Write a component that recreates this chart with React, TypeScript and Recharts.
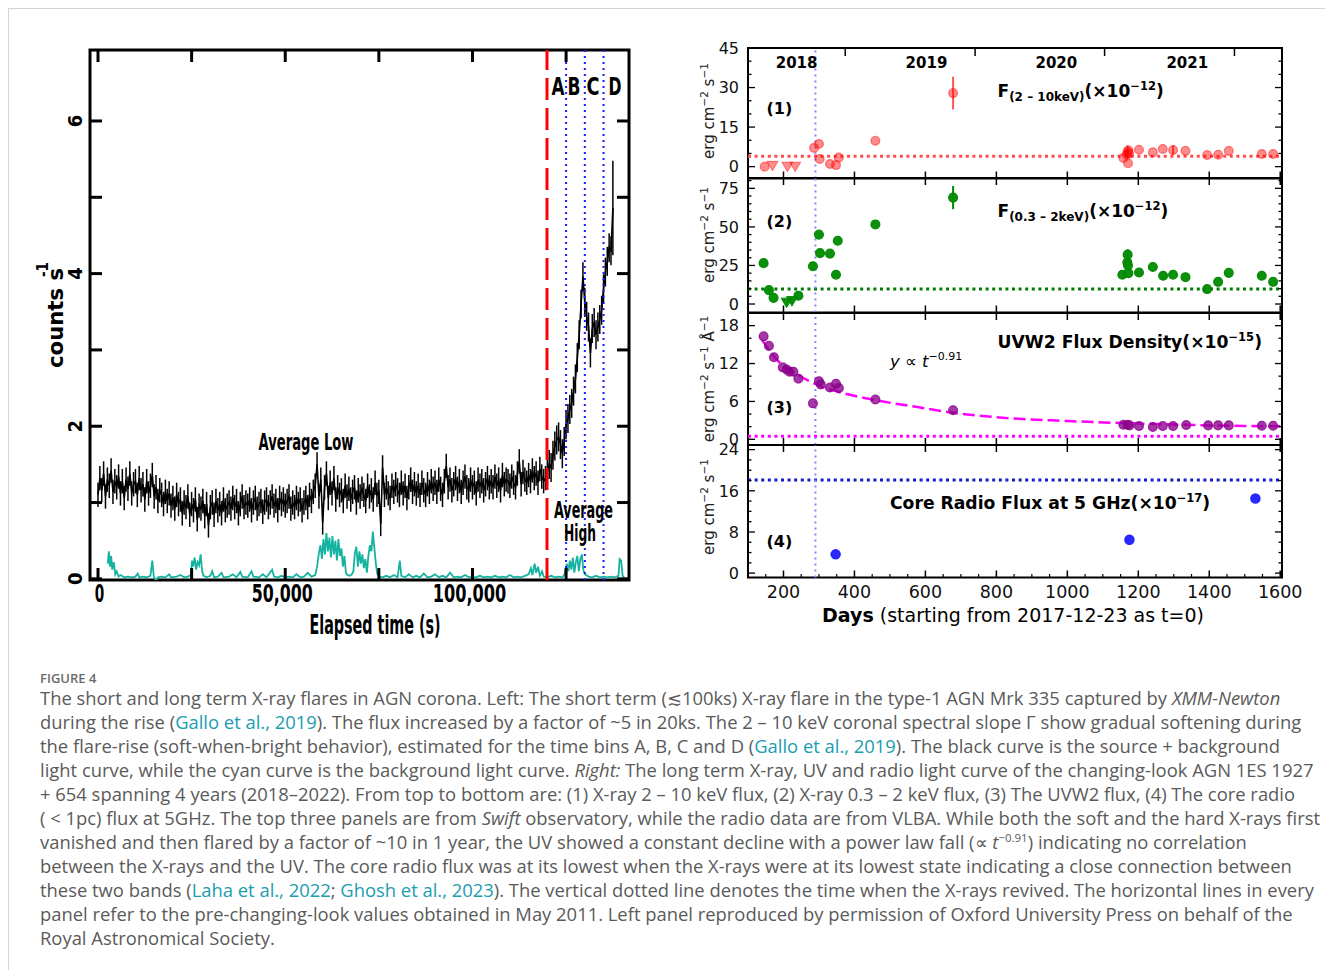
import React from "react";
import {
  ComposedChart,
  Line,
  Bar,
  Scatter,
  XAxis,
  YAxis,
  ReferenceLine,
  ReferenceArea,
  ErrorBar,
} from "recharts";

// ---------- left: Mrk 335 XMM-Newton light curve (500 s bins from t=0) ----------
const LC_BIN = 500;
const lcRate = [
  1.1, 1.32, 1.16, 1.38, 1.08, 1.3, 1.22, 1.42, 1.14, 1.28,
  1.2, 1.34, 1.12, 1.28, 1.06, 1.3, 1.18, 1.38, 1.12, 1.24,
  1.28, 1.1, 1.32, 1.16, 1.24, 1.04, 1.28, 1.12, 1.22, 1.36,
  1.08, 1.2, 1.02, 1.16, 1.1, 0.98, 1.14, 1.02, 1.12, 0.96,
  1.06, 0.92, 1.1, 0.98, 1.04, 0.86, 1.0, 0.94, 1.08, 0.84,
  0.98, 0.9, 1.04, 0.78, 0.96, 0.92, 1.02, 0.82, 0.98, 0.7,
  0.94, 1.0, 0.84, 1.02, 0.9, 0.98, 0.86, 1.04, 0.9, 0.96,
  1.0, 0.92, 1.06, 0.94, 1.02, 0.86, 0.98, 1.08, 0.94, 1.0,
  0.96, 1.04, 0.9, 1.0, 1.06, 0.92, 0.98, 1.02, 0.88, 1.0,
  1.04, 0.94, 1.0, 1.08, 0.96, 1.02, 0.9, 1.06, 0.98, 1.04,
  0.96, 1.02, 1.08, 0.92, 1.0, 0.94, 1.06, 0.98, 1.04, 0.9,
  1.0, 1.06, 0.94, 1.1, 1.02, 1.14, 1.22, 1.5, 1.08, 1.3,
  0.74, 1.2, 1.38, 1.06, 1.26, 1.12, 1.32, 1.04, 1.2, 1.1,
  1.16, 1.02, 1.22, 1.08, 1.18, 1.04, 1.14, 1.2, 1.0, 1.16,
  1.08, 1.18, 1.1, 1.02, 1.22, 1.08, 1.16, 1.04, 1.26, 1.1,
  1.14, 0.72, 1.46, 1.1, 1.2, 1.12, 1.06, 1.22, 1.14, 1.24,
  1.16, 1.1, 1.26, 1.12, 1.22, 1.06, 1.2, 1.3, 1.14, 1.24,
  1.12, 1.22, 1.1, 1.26, 1.16, 1.1, 1.24, 1.14, 1.28, 1.18,
  1.26, 1.14, 1.3, 1.18, 1.1, 1.28, 1.48, 1.2, 1.3, 1.16,
  1.24, 1.32, 1.18, 1.28, 1.14, 1.26, 1.34, 1.2, 1.16, 1.3,
  1.2, 1.26, 1.12, 1.3, 1.22, 1.28, 1.16, 1.24, 1.32, 1.2,
  1.28, 1.2, 1.34, 1.22, 1.3, 1.16, 1.36, 1.24, 1.3, 1.28,
  1.22, 1.34, 1.26, 1.2, 1.38, 1.54, 1.24, 1.4, 1.3, 1.26,
  1.36, 1.28, 1.42, 1.32, 1.38, 1.26, 1.44, 1.34, 1.28, 1.32,
  1.4, 1.5, 1.46, 1.62, 1.74, 1.82, 1.86, 1.76, 1.64, 1.8,
  2.02, 2.1, 2.22, 2.3, 2.46, 2.62, 2.9, 3.2, 3.6, 3.96,
  3.62, 3.44, 3.3, 2.96, 3.28, 3.36, 3.2, 3.3, 3.4, 3.52,
  3.8, 4.02, 4.16, 4.34, 4.3, 4.86,
];
const lcErr = { quiet: 0.16, rise: 0.19, last: 0.62 };
const lcRiseStart = 120000;

// background light curve [time s, counts/s]
const lcBackground = [
  [2600, 0.2], [2900, 0.36], [3200, 0.16], [3500, 0.3], [3800, 0.12], [4200, 0.22], [4600, 0.06],
  [5000, 0.1], [5500, 0.03], [6000, 0.05], [7000, 0.02], [8000, 0.03], [9000, 0.02], [10000, 0.03],
  [10600, 0.07], [11000, 0.02], [12000, 0.03], [13000, 0.02], [14000, 0.04], [14500, 0.24],
  [14900, 0.03], [15500, -0.03], [16000, 0.02], [17000, 0.03], [18000, 0.02], [19000, 0.06],
  [19500, 0.02], [21000, 0.03], [22000, 0.05], [23000, 0.02], [24000, 0.03], [24800, 0.05],
  [25100, 0.24], [25400, 0.16], [25800, 0.28], [26200, 0.12], [26600, 0.22], [27000, 0.18],
  [27400, 0.32], [27800, 0.1], [28200, 0.04], [29000, 0.02], [30000, 0.04], [30500, 0.1],
  [31000, 0.02], [32000, 0.03], [33000, 0.08], [33500, 0.02], [35000, 0.03], [36000, 0.06],
  [37000, 0.02], [38000, 0.09], [38500, 0.03], [40000, 0.02], [41000, 0.1], [41500, 0.03],
  [43000, 0.02], [44000, 0.06], [45000, 0.02], [46500, 0.12], [47000, 0.03], [48000, 0.02],
  [49000, 0.04], [50000, 0.02], [51000, 0.03], [52000, 0.02], [53000, 0.06], [54000, 0.02],
  [55000, 0.03], [56000, 0.08], [57000, 0.03], [58000, 0.05], [58500, 0.16], [59000, 0.34],
  [59400, 0.44], [59800, 0.26], [60200, 0.52], [60600, 0.32], [61000, 0.6], [61400, 0.36],
  [61800, 0.54], [62200, 0.28], [62600, 0.56], [63000, 0.32], [63400, 0.5], [63800, 0.24],
  [64200, 0.52], [64600, 0.3], [65000, 0.4], [65400, 0.16], [65800, 0.3], [66200, 0.08],
  [66600, 0.05], [67200, 0.04], [67800, 0.06], [68200, 0.1], [68600, 0.34], [69000, 0.42],
  [69400, 0.16], [69800, 0.36], [70200, 0.2], [70600, 0.32], [71000, 0.14], [71400, 0.26],
  [71800, 0.08], [72200, 0.3], [72600, 0.44], [73000, 0.36], [73400, 0.62], [73800, 0.4],
  [74200, 0.2], [74600, 0.06], [75200, 0.03], [76000, 0.02], [77000, 0.04], [78000, 0.02],
  [79000, 0.05], [80000, 0.02], [80600, 0.24], [81000, 0.04], [82000, 0.02], [83000, 0.06],
  [84000, 0.02], [85000, 0.04], [86000, 0.02], [87000, 0.07], [88000, 0.02], [89000, 0.03],
  [90000, 0.06], [91000, 0.02], [92000, 0.04], [93000, 0.02], [94000, 0.08], [95000, 0.02],
  [96000, 0.03], [97000, 0.02], [98000, 0.05], [99000, 0.02], [100000, 0.03], [101000, 0.02],
  [102000, 0.04], [103000, 0.02], [104000, 0.03], [105000, 0.02], [106000, 0.04], [107000, 0.02],
  [108000, 0.03], [109000, 0.02], [110000, 0.05], [111000, 0.02], [112000, 0.03], [113000, 0.02],
  [114000, 0.04], [115000, 0.06], [115600, 0.14], [116000, 0.05], [116600, 0.2], [117000, 0.08],
  [117500, 0.16], [118000, 0.04], [118600, 0.1], [119000, 0.03], [120000, 0.02], [121000, 0.04],
  [122000, 0.02], [123000, 0.03], [124000, 0.02], [124600, 0.06], [125200, 0.2], [125600, 0.1],
  [126000, 0.24], [126400, 0.12], [126800, 0.28], [127200, 0.08], [127600, 0.22], [128000, 0.3],
  [128400, 0.1], [128800, 0.26], [129200, 0.32], [129600, 0.12], [130000, 0.06], [131000, 0.03],
  [132000, 0.02], [133000, 0.04], [134000, 0.02], [135000, 0.03], [136000, 0.02], [137000, 0.03],
  [138000, 0.02], [139000, 0.04], [139300, 0.26], [139700, 0.24], [140100, 0.04], [140500, 0.02],
];
const flareStart = 119900;
const binEdges = [125000, 130000, 135000];
const timeTicks = [0, 25000, 50000, 75000, 100000, 125000];
const rateTicks = [0, 1, 2, 3, 4, 5, 6];

// ---------- right: 1ES 1927+654 long-term monitoring, [day, value, err] ----------
const hardFlux = [
  [147, 0], [286, 7.1], [300, 8.6], [302, 2.9], [331, 1.0], [348, 0.6], [356, 3.4], [459, 9.8],
  [678, 27.9, 6.2], [1158, 3.3], [1167, 4.6, 1.2], [1170, 5.6, 2.4], [1172, 6.2], [1171, 1.3],
  [1174, 5.0], [1202, 6.4], [1241, 5.4], [1269, 6.7], [1298, 6.3, 1.8], [1333, 6.0], [1394, 4.4],
  [1425, 4.5], [1455, 6.0], [1548, 4.8], [1580, 4.8],
];
const hardLimits = [[169, 0.3], [211, 0], [233, 0]];
const softFlux = [
  [144, 26.5], [159, 9.0], [172, 4.0], [242, 5.4], [283, 24.5], [300, 45], [303, 33], [331, 32.7],
  [348, 19], [353, 41], [459, 51.6], [678, 69, 7.5], [1155, 19], [1169, 27], [1170, 32, 3.5],
  [1171, 25], [1172, 20], [1202, 20.4], [1241, 24], [1270, 18.3], [1298, 19], [1333, 17.4],
  [1394, 9.7], [1425, 14.4], [1455, 20.2], [1548, 18.3], [1580, 14.4],
];
const softLimits = [[209, 0.9], [224, 1.9]];
const uvFlux = [
  [144, 16.3], [159, 14.8], [173, 13.0], [198, 11.4], [209, 11.05], [217, 10.7], [228, 10.7],
  [242, 9.6], [283, 5.7], [300, 9.2], [305, 8.7], [331, 8.2], [348, 8.8], [356, 8.1], [459, 6.3],
  [678, 4.6], [1158, 2.3], [1170, 2.3], [1175, 2.2], [1202, 2.1], [1241, 1.95], [1269, 2.1],
  [1298, 2.1], [1335, 2.26], [1397, 2.2], [1425, 2.2], [1455, 2.2], [1548, 2.15], [1580, 2.15],
];
const uvFit = [
  [140, 15.7], [183, 12.5], [244, 10.1], [300, 8.5], [356, 7.5], [459, 6.2], [578, 5.1],
  [678, 4.2], [800, 3.5], [1000, 2.9], [1200, 2.5], [1400, 2.2], [1600, 2.05],
];
const radioFlux = [[347, 3.65], [1175, 6.5], [1530, 14.5]];
const preChangingLook = { hard: 3.9, soft: 9.7, uv: 0.5, radio: 18.1 };
const xrayReviveDay = 290;

const dayMajors = [200, 400, 600, 800, 1000, 1200, 1400, 1600];
const dayMinors = [
  150, 250, 300, 350, 450, 500, 550, 650, 700, 750, 850, 900, 950,
  1050, 1100, 1150, 1250, 1300, 1350, 1450, 1500, 1550,
];
const yearStarts = [374, 740, 1105, 1471];
const yearLabelDays = [237, 603, 969, 1338];
const yearNames = ["2018", "2019", "2020", "2021"];

// ---------- layout (page pixels) ----------
const NARROW = "'Liberation Sans Narrow', 'DejaVu Sans Condensed', 'Arial Narrow', sans-serif";
const DV = "'DejaVu Sans', Verdana, sans-serif";
const LC = { left: 90, top: 50, w: 539, h: 530 };
const R_LEFT = 748;
const R_W = 534;
const R_SVG_W = 630;
const DAY_DOMAIN = [100, 1605];

const pts = (rows: number[][]) => rows.map(([d, v, e]) => ({ d, v, e }));

// each bin: rate and its 1-sigma range (drawn as the vertical error bar)
const lcData = lcRate.map((rate, i) => {
  const t = i * LC_BIN;
  const err =
    i === lcRate.length - 1 ? lcErr.last : t >= lcRiseStart ? lcErr.rise : lcErr.quiet;
  return { t, rate, range: [rate - err, rate + err] };
});
const bgData = lcBackground.map(([t, bg]) => ({ t, bg }));

// error bar drawn as a stroke through the centre of the range bar
const errStroke = (p: any) => {
  if (p.height == null || isNaN(p.y)) return <g />;
  const cx = p.x + p.width / 2;
  return <line x1={cx} x2={cx} y1={p.y} y2={p.y + p.height} stroke="#000" strokeWidth={1.5} />;
};

// ---------- left panel ticks ----------
const TimeTick = (props: any) => {
  const { x, y, payload } = props;
  const v = payload.value;
  const widths: Record<number, number> = { 0: 9.5, 50000: 61, 100000: 73.5 };
  return (
    <g>
      <line x1={x} x2={x} y1={y} y2={y - 12} stroke="#000" strokeWidth={3} />
      <line x1={x} x2={x} y1={y - LC.h} y2={y - LC.h + 12} stroke="#000" strokeWidth={3} />
      {v % 50000 === 0 && (
        <text
          x={x + (v === 0 ? 1.5 : -3)}
          y={y + 21.5}
          textAnchor="middle"
          fontFamily={NARROW}
          fontWeight="bold"
          fontSize={25}
          textLength={widths[v]}
          lengthAdjust="spacingAndGlyphs"
        >
          {v.toLocaleString("en-US")}
        </text>
      )}
    </g>
  );
};

const RateTick = (props: any) => {
  const { x, y, payload } = props;
  const v = payload.value;
  return (
    <g>
      <line x1={x} x2={x + 12} y1={y} y2={y} stroke="#000" strokeWidth={3} />
      <line x1={x + LC.w} x2={x + LC.w - 12} y1={y} y2={y} stroke="#000" strokeWidth={3} />
      {v % 2 === 0 && (
        <text
          transform={`translate(${x - 8},${y}) rotate(-90)`}
          textAnchor="middle"
          fontFamily={NARROW}
          fontWeight="bold"
          fontSize={20}
        >
          {v}
        </text>
      )}
    </g>
  );
};

function LightCurve() {
  const W = 650;
  const H = 660;
  const YW = 20;
  const XH = 20;
  const margin = {
    top: LC.top - 8,
    left: LC.left - 8 - YW,
    right: W - (LC.left - 8) - LC.w,
    bottom: H - (LC.top - 8) - LC.h - XH,
  };
  return (
    <div style={{ position: "absolute", left: 0, top: 0 }}>
      <ComposedChart width={W} height={H} margin={margin} data={lcData}>
        <XAxis
          type="number"
          dataKey="t"
          domain={[-2140, 141800]}
          ticks={timeTicks}
          interval={0}
          tick={(p: any) => <TimeTick {...p} />}
          tickLine={false}
          axisLine={false}
          tickSize={0}
          tickMargin={0}
          height={XH}
          allowDataOverflow
        />
        <YAxis
          type="number"
          domain={[-0.015, 6.93]}
          ticks={rateTicks}
          interval={0}
          tick={(p: any) => <RateTick {...p} />}
          tickLine={false}
          axisLine={false}
          tickSize={0}
          tickMargin={0}
          width={YW}
          allowDataOverflow
        />
        <Line
          data={bgData}
          dataKey="bg"
          stroke="#14b3a0"
          strokeWidth={1.8}
          dot={false}
          isAnimationActive={false}
        />
        <Bar dataKey="range" barSize={2} shape={errStroke} isAnimationActive={false} />
        <Line dataKey="rate" stroke="#000" strokeWidth={1.6} dot={false} isAnimationActive={false} />
        <ReferenceLine x={flareStart} stroke="#ff0000" strokeWidth={3} strokeDasharray="22 8" />
        {binEdges.map((b) => (
          <ReferenceLine key={b} x={b} stroke="#1a1aff" strokeWidth={2} strokeDasharray="2 4" />
        ))}
        <ReferenceArea
          x1={-2140}
          x2={141800}
          y1={-0.015}
          y2={6.93}
          fill="none"
          stroke="#000"
          strokeWidth={3}
          ifOverflow="visible"
        />
      </ComposedChart>
    </div>
  );
}

// ---------- right panel ----------
type PanelCfg = {
  top: number;
  h: number;
  domain: number[];
  majors: number[];
  minors: number[];
  first?: boolean;
  last?: boolean;
};

const panels: Record<string, PanelCfg> = {
  hard: { top: 47.5, h: 130.5, domain: [-4.5, 45], majors: [0, 15, 30, 45], minors: [5, 10, 20, 25, 35, 40], first: true },
  soft: { top: 178, h: 134.5, domain: [-5.5, 81.7], majors: [0, 25, 50, 75], minors: [5, 10, 15, 20, 30, 35, 40, 45, 55, 60, 65, 70, 80] },
  uv: { top: 312.5, h: 132, domain: [-0.9, 20], majors: [0, 6, 12, 18], minors: [2, 4, 8, 10, 14, 16] },
  radio: { top: 444.5, h: 132.5, domain: [-0.85, 24.9], majors: [0, 8, 16, 24], minors: [2, 4, 6, 10, 12, 14, 18, 20, 22], last: true },
};

const makeDayTick = (p: PanelCfg) => (props: any) => {
  const { x, y, payload } = props;
  const v = payload.value;
  const top = y - p.h;
  if (dayMajors.includes(v)) {
    return (
      <g>
        <line x1={x} x2={x} y1={y} y2={y - 7} stroke="#000" strokeWidth={1.5} />
        {!p.first && <line x1={x} x2={x} y1={top} y2={top + 7} stroke="#000" strokeWidth={1.5} />}
        {p.last && (
          <text x={x} y={y + 20} textAnchor="middle" fontFamily={DV} fontSize={17.5} fill="#111">
            {v}
          </text>
        )}
      </g>
    );
  }
  if (dayMinors.includes(v)) {
    return <line x1={x} x2={x} y1={y} y2={y - 3.5} stroke="#000" strokeWidth={1.2} />;
  }
  if (yearStarts.includes(v)) {
    return <line x1={x} x2={x} y1={top} y2={top + 8} stroke="#000" strokeWidth={1.5} />;
  }
  const yi = yearLabelDays.indexOf(v);
  if (yi >= 0) {
    return (
      <text x={x} y={top + 20} textAnchor="middle" fontFamily={DV} fontWeight="bold" fontSize={15}>
        {yearNames[yi]}
      </text>
    );
  }
  return <g />;
};

const makeValTick = (p: PanelCfg) => (props: any) => {
  const { x, y, payload } = props;
  const v = payload.value;
  const major = p.majors.includes(v);
  const len = major ? 7 : 3.5;
  return (
    <g>
      <line x1={x} x2={x + len} y1={y} y2={y} stroke="#000" strokeWidth={1.3} />
      <line x1={x + R_W} x2={x + R_W - len} y1={y} y2={y} stroke="#000" strokeWidth={1.3} />
      {major && (
        <text x={x - 9} y={y} dy="0.36em" textAnchor="end" fontFamily={DV} fontSize={16} fill="#111">
          {v}
        </text>
      )}
    </g>
  );
};

const dayTicksFor = (p: PanelCfg) => {
  if (p.first) return [...dayMajors, ...yearStarts, ...yearLabelDays].sort((a, b) => a - b);
  if (p.last) return [...dayMajors, ...dayMinors].sort((a, b) => a - b);
  return dayMajors;
};

function panelAxes(p: PanelCfg, baseline: number, baseColor: string) {
  return [
    <XAxis
      key="x"
      type="number"
      dataKey="d"
      domain={DAY_DOMAIN}
      ticks={dayTicksFor(p)}
      interval={0}
      tick={makeDayTick(p)}
      tickLine={false}
      axisLine={false}
      tickSize={0}
      tickMargin={0}
      height={10}
      allowDataOverflow
    />,
    <YAxis
      key="y"
      type="number"
      dataKey="v"
      domain={p.domain}
      ticks={[...p.majors, ...p.minors].sort((a, b) => a - b)}
      interval={0}
      tick={makeValTick(p)}
      tickLine={false}
      axisLine={false}
      tickSize={0}
      tickMargin={0}
      width={10}
      allowDataOverflow
    />,
    <ReferenceLine key="base" y={baseline} stroke={baseColor} strokeWidth={3} strokeDasharray="3 3.6" />,
    <ReferenceLine key="rev" x={xrayReviveDay} stroke="#8585ff" strokeWidth={2} strokeDasharray="2 4" />,
    <ReferenceArea
      key="frame"
      x1={DAY_DOMAIN[0]}
      x2={DAY_DOMAIN[1]}
      y1={p.domain[0]}
      y2={p.domain[1]}
      fill="none"
      stroke="#000"
      strokeWidth={2}
      ifOverflow="visible"
    />,
  ];
}

function PanelBox({ p, children }: { p: PanelCfg; children: React.ReactNode }) {
  const extraTop = 14;
  const extraBottom = p.last ? 56 : 14;
  return (
    <div style={{ position: "absolute", left: R_LEFT - 48 - 8, top: p.top - extraTop - 8 }}>
      <ComposedChart
        width={R_SVG_W}
        height={p.h + extraTop + extraBottom}
        margin={{ top: extraTop, left: 38, right: R_SVG_W - 48 - R_W, bottom: extraBottom - 10 }}
      >
        {children}
      </ComposedChart>
    </div>
  );
}

const circle = (fill: string, opacity: number, r: number) => (props: any) => (
  <circle
    cx={props.cx}
    cy={props.cy}
    r={r}
    fill={fill}
    fillOpacity={opacity}
    stroke={fill}
    strokeOpacity={opacity}
    strokeWidth={1.3}
  />
);
const downTriangle = (fill: string, opacity: number) => (props: any) => {
  const { cx, cy } = props;
  return (
    <polygon
      points={`${cx - 5.5},${cy - 4.5} ${cx + 5.5},${cy - 4.5} ${cx},${cy + 5}`}
      fill={fill}
      fillOpacity={opacity}
      stroke={fill}
      strokeOpacity={opacity}
      strokeWidth={1}
    />
  );
};

function RightPanels() {
  return (
    <>
      <PanelBox p={panels.hard}>
        {panelAxes(panels.hard, preChangingLook.hard, "#ff4d4d")}
        <Scatter data={pts(hardFlux)} shape={circle("#ff0000", 0.45, 4.4)} isAnimationActive={false}>
          <ErrorBar dataKey="e" direction="y" width={0} stroke="#ff5555" strokeWidth={2} isAnimationActive={false} />
        </Scatter>
        <Scatter data={pts(hardLimits)} shape={downTriangle("#ff0000", 0.45)} isAnimationActive={false} />
      </PanelBox>
      <PanelBox p={panels.soft}>
        {panelAxes(panels.soft, preChangingLook.soft, "#007a00")}
        <Scatter data={pts(softFlux)} shape={circle("#008a00", 0.95, 4.4)} isAnimationActive={false}>
          <ErrorBar dataKey="e" direction="y" width={0} stroke="#008a00" strokeWidth={2} isAnimationActive={false} />
        </Scatter>
        <Scatter data={pts(softLimits)} shape={downTriangle("#008a00", 0.95)} isAnimationActive={false} />
      </PanelBox>
      <PanelBox p={panels.uv}>
        {panelAxes(panels.uv, preChangingLook.uv, "#ff00ff")}
        <Line
          data={pts(uvFit)}
          dataKey="v"
          type="monotone"
          stroke="#ff00ff"
          strokeWidth={2.5}
          strokeDasharray="12 5"
          dot={false}
          isAnimationActive={false}
        />
        <Scatter data={pts(uvFlux)} shape={circle("#8b008b", 0.78, 4.4)} isAnimationActive={false} />
      </PanelBox>
      <PanelBox p={panels.radio}>
        {panelAxes(panels.radio, preChangingLook.radio, "#1a1acc")}
        <Scatter data={pts(radioFlux)} shape={circle("#1c1cff", 0.95, 4.6)} isAnimationActive={false} />
      </PanelBox>
    </>
  );
}

// ---------- static text ----------
function Labels() {
  const o = 8; // body margin offset
  const ylab = (cy: number, uv?: boolean) => (
    <text transform={`translate(${714 - o},${cy - o}) rotate(-90)`} textAnchor="middle" fontFamily={DV} fontSize={15} fill="#222">
      erg cm<tspan fontSize={10.5} dy={-6}>−2</tspan>
      <tspan dy={6}> s</tspan>
      <tspan fontSize={10.5} dy={-6}>−1</tspan>
      {uv && <tspan dy={6}> Å</tspan>}
      {uv && <tspan fontSize={10.5} dy={-6}>−1</tspan>}
    </text>
  );
  const flux = (x: number, y: number, band: string, exp: string) => (
    <text x={x - o} y={y - o} fontFamily={DV} fontWeight="bold" fontSize={17}>
      F<tspan fontSize={12} dy={4}>{band}</tspan>
      <tspan dy={-4}>(×10</tspan>
      <tspan fontSize={11.5} dy={-7}>{exp}</tspan>
      <tspan dy={7}>)</tspan>
    </text>
  );
  return (
    <svg
      width={1322}
      height={1000}
      style={{ position: "absolute", left: 0, top: 0, pointerEvents: "none" }}
    >
      <g fontFamily={NARROW} fontWeight="bold" fill="#000">
        <text transform={`translate(${63 - o},${318 - o}) rotate(-90)`} textAnchor="middle" fontSize={22} textLength={100} lengthAdjust="spacingAndGlyphs">
          counts s
        </text>
        <text transform={`translate(${48 - o},${277 - o}) rotate(-90)`} fontSize={15}>
          -1
        </text>
        <text x={375 - o} y={634 - o} textAnchor="middle" fontSize={26} textLength={131} lengthAdjust="spacingAndGlyphs">
          Elapsed time (s)
        </text>
        <text x={306 - o} y={449.5 - o} textAnchor="middle" fontSize={23} textLength={95} lengthAdjust="spacingAndGlyphs">
          Average Low
        </text>
        <text x={583.5 - o} y={518 - o} textAnchor="middle" fontSize={23} textLength={59} lengthAdjust="spacingAndGlyphs">
          Average
        </text>
        <text x={580 - o} y={541 - o} textAnchor="middle" fontSize={23} textLength={32} lengthAdjust="spacingAndGlyphs">
          High
        </text>
        {[
          ["A", 558],
          ["B", 574],
          ["C", 593],
          ["D", 615],
        ].map(([s, x]) => (
          <text key={s as string} x={(x as number) - o} y={94.5 - o} textAnchor="middle" fontSize={24} textLength={13} lengthAdjust="spacingAndGlyphs">
            {s}
          </text>
        ))}
      </g>

      {ylab(111)}
      {ylab(235)}
      {ylab(379, true)}
      {ylab(507)}

      <g fontFamily={DV} fontWeight="bold" fontSize={16}>
        <text x={766.5 - o} y={114 - o}>(1)</text>
        <text x={766.5 - o} y={226.7 - o}>(2)</text>
        <text x={766.5 - o} y={412.7 - o}>(3)</text>
        <text x={766.5 - o} y={547.3 - o}>(4)</text>
      </g>
      {flux(997.5, 97, "(2 – 10keV)", "−12")}
      {flux(997.5, 216.7, "(0.3 – 2keV)", "−12")}
      <text x={997.5 - o} y={348.3 - o} fontFamily={DV} fontWeight="bold" fontSize={17.2}>
        UVW2 Flux Density(×10<tspan fontSize={11.5} dy={-7}>−15</tspan>
        <tspan dy={7}>)</tspan>
      </text>
      <text x={890 - o} y={366.7 - o} fontFamily={DV} fontSize={16.5}>
        <tspan fontStyle="italic">y</tspan> ∝ <tspan fontStyle="italic">t</tspan>
        <tspan fontSize={11} dy={-7}>−0.91</tspan>
      </text>
      <text x={890 - o} y={509.3 - o} fontFamily={DV} fontWeight="bold" fontSize={17.2}>
        Core Radio Flux at 5 GHz(×10<tspan fontSize={11.5} dy={-7}>−17</tspan>
        <tspan dy={7}>)</tspan>
      </text>
      <text x={822 - o} y={621.7 - o} fontFamily={DV} fontSize={19}>
        <tspan fontWeight="bold">Days</tspan> (starting from 2017-12-23 as t=0)
      </text>
    </svg>
  );
}

const linkStyle: React.CSSProperties = { color: "#1a9db0" };
const Ref = ({ children }: { children: React.ReactNode }) => <span style={linkStyle}>{children}</span>;

const captionLines: React.ReactNode[] = [
  <>The short and long term X-ray flares in AGN corona. Left: The short term (≲100ks) X-ray flare in the type-1 AGN Mrk 335 captured by <i>XMM-Newton</i></>,
  <>during the rise (<Ref>Gallo et al., 2019</Ref>). The flux increased by a factor of ~5 in 20ks. The 2 – 10 keV coronal spectral slope Γ show gradual softening during</>,
  <>the flare-rise (soft-when-bright behavior), estimated for the time bins A, B, C and D (<Ref>Gallo et al., 2019</Ref>). The black curve is the source + background</>,
  <>light curve, while the cyan curve is the background light curve. <i>Right:</i> The long term X-ray, UV and radio light curve of the changing-look AGN 1ES 1927</>,
  <>+ 654 spanning 4 years (2018–2022). From top to bottom are: (1) X-ray 2 – 10 keV flux, (2) X-ray 0.3 – 2 keV flux, (3) The UVW2 flux, (4) The core radio</>,
  <>( &lt; 1pc) flux at 5GHz. The top three panels are from <i>Swift</i> observatory, while the radio data are from VLBA. While both the soft and the hard X-rays first</>,
  <>vanished and then flared by a factor of ~10 in 1 year, the UV showed a constant decline with a power law fall (∝ <i>t</i><sup style={{ fontSize: 11.5, lineHeight: 0 }}>−0.91</sup>) indicating no correlation</>,
  <>between the X-rays and the UV. The core radio flux was at its lowest when the X-rays were at its lowest state indicating a close connection between</>,
  <>these two bands (<Ref>Laha et al., 2022</Ref>; <Ref>Ghosh et al., 2023</Ref>). The vertical dotted line denotes the time when the X-rays revived. The horizontal lines in every</>,
  <>panel refer to the pre-changing-look values obtained in May 2011. Left panel reproduced by permission of Oxford University Press on behalf of the</>,
  <>Royal Astronomical Society.</>,
];

function Caption() {
  return (
    <div style={{ position: "absolute", left: 32, top: 662, fontFamily: "'Open Sans', 'Noto Sans', sans-serif", color: "#5a5a5a" }}>
      <div style={{ fontSize: 13, fontWeight: 600, lineHeight: "16px", color: "#6a6a6a" }}>FIGURE 4</div>
      <div style={{ fontSize: 18.4, lineHeight: "24px", marginTop: 0 }}>
        {captionLines.map((l, i) => (
          <div key={i} style={{ whiteSpace: "nowrap" }}>
            {l}
          </div>
        ))}
      </div>
    </div>
  );
}

export default function App() {
  return (
    <div style={{ position: "relative", width: 1322, height: 1000, background: "#fff" }}>
      <div
        style={{
          position: "absolute",
          left: 0,
          top: 0,
          width: 1320,
          height: 998,
          border: "1px solid #d4d4d4",
        }}
      />
      <LightCurve />
      <RightPanels />
      <Labels />
      <Caption />
    </div>
  );
}
